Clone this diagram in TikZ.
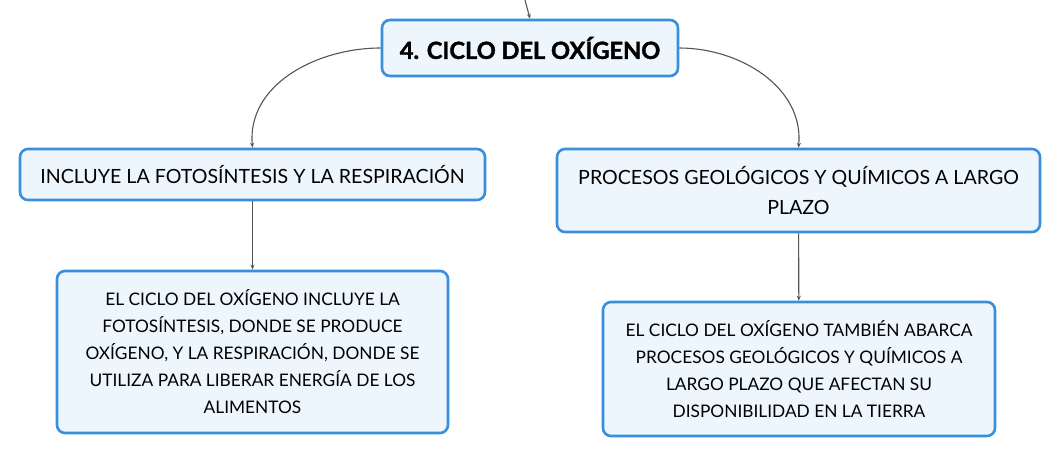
\documentclass[tikz,border=0pt]{standalone}
\usepackage{fontspec}
\setmainfont{Lato}
\newfontfamily\titlefont[BoldFeatures={FakeBold=1.6}]{Lato}
\usepackage{xcolor}
\usetikzlibrary{arrows.meta}
\definecolor{BoxBlue}{HTML}{3A8FDC}
\definecolor{BoxFill}{HTML}{EEF6FD}
\definecolor{LinkGray}{HTML}{555555}

\begin{document}
\begin{tikzpicture}[x=1pt, y=-1pt, -{Stealth[length=5pt,width=4pt]}, color=LinkGray, line width=1.1pt,
      every node/.append style={draw=BoxBlue, line width=2.6pt, fill=BoxFill, rounded corners=8pt,
        text=black, align=center, inner sep=0pt},
      topic/.style={font=\titlefont\fontsize{23.6}{28}\selectfont\bfseries},
      branch/.style={font=\fontsize{19.6}{30}\selectfont},
      detail/.style={font=\fontsize{17.3}{27}\selectfont}]
    \useasboundingbox (0,0) rectangle (1062,458);
    \node [topic, minimum width=296pt, minimum height=56pt] (oxigeno) at (530,48) {4. CICLO DEL OXÍGENO};
    \node [branch, minimum width=465pt, minimum height=51pt] (foto) at (252.5,174.5)
      {INCLUYE LA FOTOSÍNTESIS Y LA RESPIRACIÓN};
    \node [branch, minimum width=483pt, minimum height=83pt] (geo) at (798.5,190.5)
      {PROCESOS GEOLÓGICOS Y QUÍMICOS A LARGO\\PLAZO};
    \node [detail, minimum width=391pt, minimum height=162pt] (fotodet) at (252.5,352)
      {EL CICLO DEL OXÍGENO INCLUYE LA\\FOTOSÍNTESIS, DONDE SE PRODUCE\\OXÍGENO, Y LA RESPIRACIÓN, DONDE SE\\UTILIZA PARA LIBERAR ENERGÍA DE LOS\\ALIMENTOS};
    \node [detail, minimum width=392pt, minimum height=134pt] (geodet) at (799,369)
      {EL CICLO DEL OXÍGENO TAMBIÉN ABARCA\\PROCESOS GEOLÓGICOS Y QUÍMICOS A\\LARGO PLAZO QUE AFECTAN SU\\DISPONIBILIDAD EN LA TIERRA};
    \coordinate (arriba) at (525,0);
    \draw (arriba) -- (oxigeno.north);
    \draw (oxigeno.west) to[out=180,in=95] (foto.north);
    \draw (oxigeno.east) to[out=0,in=85] (geo.north);
    \draw (foto) -- (fotodet);
    \draw (geo) -- (geodet);
  \end{tikzpicture}
\end{document}
